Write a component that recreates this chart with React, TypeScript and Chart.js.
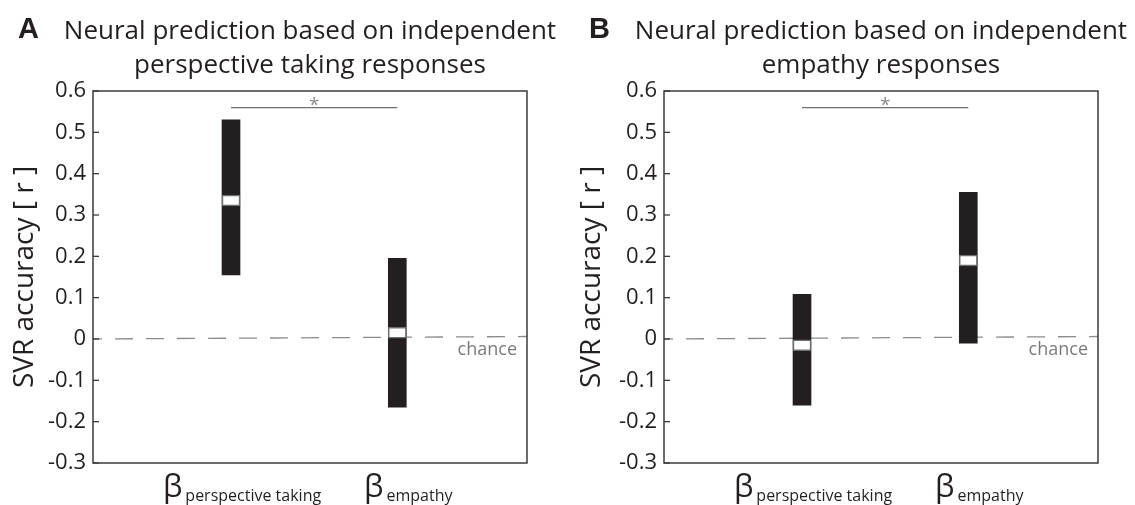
import React, { useEffect, useRef } from 'react';
import { Chart, registerables } from 'chart.js';

Chart.register(...registerables);

const FONT = '"Open Sans", "Noto Sans", sans-serif';
const INK = '#231f20';

// ---- data ----
const yTickValues = [0.6, 0.5, 0.4, 0.3, 0.2, 0.1, 0, -0.1, -0.2, -0.3];
const yMin = -0.3;
const yMax = 0.6;
const xMin = 0.17;
const xMax = 2.78;
const categoryPositions = [1, 2];
const categorySubscripts = ['perspective taking', 'empathy'];

const panelLetters = ['A', 'B'];
const titleLinesA = ['Neural prediction based on independent', 'perspective taking responses'];
const titleLinesB = ['Neural prediction based on independent', 'empathy responses'];

const lowA = [0.155, -0.165];
const highA = [0.53, 0.195];
const medianA = [0.335, 0.015];

const lowB = [-0.16, -0.01];
const highB = [0.108, 0.355];
const medianB = [-0.015, 0.19];

const significanceLevel = 0.56;
const significanceMark = '*';
const chanceStart = 0;
const chanceEnd = 0.006;
const chanceLabel = 'chance';
const medianHalfHeight = 0.013;
const yAxisTitle = 'SVR accuracy [ r ]';

const fmtTick = (v: number) => (Math.abs(v) < 1e-9 ? '0' : v.toFixed(1));

const decorPlugin = {
  id: 'decor',
  afterDraw(chart: any, _args: any, opts: any) {
    const { ctx, chartArea } = chart;
    const { left, right, top, bottom } = chartArea;
    const xs = chart.scales.x;
    const ys = chart.scales.y;
    ctx.save();
    // frame
    ctx.strokeStyle = '#3b3b3b';
    ctx.lineWidth = 1.5;
    ctx.strokeRect(left, top, right - left, bottom - top);
    // inward ticks
    ctx.lineWidth = 1.3;
    yTickValues.forEach((v) => {
      const y = ys.getPixelForValue(v);
      ctx.beginPath();
      ctx.moveTo(left, y);
      ctx.lineTo(left + 6, y);
      ctx.stroke();
    });
    // panel letter
    ctx.fillStyle = INK;
    ctx.textBaseline = 'alphabetic';
    ctx.textAlign = 'left';
    ctx.font = 'bold 29px "Liberation Sans", Arial, sans-serif';
    ctx.fillText(opts.letter, left - 75, 38);
    // title
    ctx.font = `26px ${FONT}`;
    ctx.textAlign = 'center';
    const cx = (left + right) / 2;
    opts.titleLines.forEach((t: string, i: number) => ctx.fillText(t, cx, 39 + i * 34));
    // x labels
    categoryPositions.forEach((p, i) => {
      const bx = xs.getPixelForValue(p) + 11;
      ctx.font = `31px ${FONT}`;
      const wb = ctx.measureText('β').width;
      ctx.font = `16px ${FONT}`;
      const ws = ctx.measureText(categorySubscripts[i]).width;
      const gap = 3;
      const x0 = bx - (wb + gap + ws) / 2;
      ctx.textAlign = 'left';
      ctx.font = `31px ${FONT}`;
      ctx.fillText('β', x0, 497);
      ctx.font = `16px ${FONT}`;
      ctx.fillText(categorySubscripts[i], x0 + wb + gap, 501);
    });
    // significance star
    const sy = ys.getPixelForValue(significanceLevel);
    const mx = (xs.getPixelForValue(categoryPositions[0]) + xs.getPixelForValue(categoryPositions[1])) / 2;
    ctx.fillStyle = '#8a8a8a';
    ctx.font = `19px ${FONT}`;
    ctx.textAlign = 'center';
    ctx.fillText(significanceMark, mx, sy + 3);
    // chance label
    ctx.fillStyle = '#7a7a7a';
    ctx.font = `18px ${FONT}`;
    ctx.textAlign = 'right';
    ctx.textBaseline = 'top';
    ctx.fillText(chanceLabel, right - 10, ys.getPixelForValue(0) + 2);
    ctx.restore();
  },
};

type PanelProps = {
  letter: string;
  titleLines: string[];
  low: number[];
  high: number[];
  median: number[];
  pageLeft: number;
  canvasWidth: number;
  chartLeft: number;
  chartRight: number;
};

function Panel(props: PanelProps) {
  const ref = useRef<HTMLCanvasElement | null>(null);
  useEffect(() => {
    if (!ref.current) return;
    const { low, high, median, canvasWidth, chartLeft, chartRight } = props;
    const chart = new Chart(ref.current, {
      type: 'bar',
      data: {
        datasets: [
          {
            type: 'bar',
            data: categoryPositions.map((p, i) => ({ x: p, y: [median[i] - medianHalfHeight, median[i] + medianHalfHeight] })),
            backgroundColor: '#ffffff',
            borderColor: '#6d6e71',
            borderWidth: 1.5,
            borderSkipped: false,
            barThickness: 18,
            grouped: false,
            order: 0,
          } as any,
          {
            type: 'bar',
            data: categoryPositions.map((p, i) => ({ x: p, y: [low[i], high[i]] })),
            backgroundColor: INK,
            borderWidth: 0,
            barThickness: 18,
            grouped: false,
            order: 1,
          } as any,
          {
            type: 'line',
            data: [
              { x: categoryPositions[0], y: significanceLevel },
              { x: categoryPositions[1], y: significanceLevel },
            ],
            borderColor: '#6d6e71',
            borderWidth: 1.3,
            pointRadius: 0,
            order: 2,
          } as any,
          {
            type: 'line',
            data: [
              { x: xMin, y: chanceStart },
              { x: xMax, y: chanceEnd },
            ],
            borderColor: '#8c8c8c',
            borderWidth: 1.3,
            borderDash: [18, 13],
            borderDashOffset: 9,
            pointRadius: 0,
            order: 3,
          } as any,
        ],
      },
      options: {
        responsive: false,
        maintainAspectRatio: false,
        animation: false,
        layout: { padding: { left: 0, right: canvasWidth - chartRight, top: 91, bottom: 0 } },
        plugins: {
          legend: { display: false },
          tooltip: { enabled: false },
          title: { display: false },
          decor: { letter: props.letter, titleLines: props.titleLines },
        } as any,
        scales: {
          x: {
            type: 'linear',
            min: xMin,
            max: xMax,
            offset: false,
            grid: { display: false, drawTicks: false },
            border: { display: false },
            ticks: { display: false },
            afterFit: (s: any) => {
              s.height = 42;
            },
          },
          y: {
            type: 'linear',
            min: yMin,
            max: yMax,
            grid: { display: false, drawTicks: false },
            border: { display: false },
            afterBuildTicks: (s: any) => {
              s.ticks = [...yTickValues].sort((a, b) => a - b).map((v) => ({ value: v }));
            },
            afterFit: (s: any) => {
              s.width = chartLeft;
            },
            ticks: {
              color: INK,
              padding: 7,
              font: { family: FONT, size: 22 },
              callback: (v: any) => fmtTick(Number(v)),
            },
            title: {
              display: true,
              text: yAxisTitle,
              color: INK,
              font: { family: FONT, size: 28 },
              padding: { top: 8, bottom: 0 },
            },
          },
        } as any,
      },
      plugins: [decorPlugin],
    });
    return () => chart.destroy();
  }, []);
  return (
    <div style={{ position: 'absolute', left: props.pageLeft, top: 0, width: props.canvasWidth, height: 505 }}>
      <canvas ref={ref} width={props.canvasWidth} height={505} style={{ display: 'block' }} />
    </div>
  );
}

export default function App() {
  return (
    <div style={{ position: 'absolute', left: 0, top: 0, width: 1135, height: 505, background: '#fff', overflow: 'hidden' }}>
      <Panel
        letter={panelLetters[0]}
        titleLines={titleLinesA}
        low={lowA}
        high={highA}
        median={medianA}
        pageLeft={0}
        canvasWidth={567}
        chartLeft={93}
        chartRight={527}
      />
      <Panel
        letter={panelLetters[1]}
        titleLines={titleLinesB}
        low={lowB}
        high={highB}
        median={medianB}
        pageLeft={567}
        canvasWidth={568}
        chartLeft={97}
        chartRight={531}
      />
    </div>
  );
}
